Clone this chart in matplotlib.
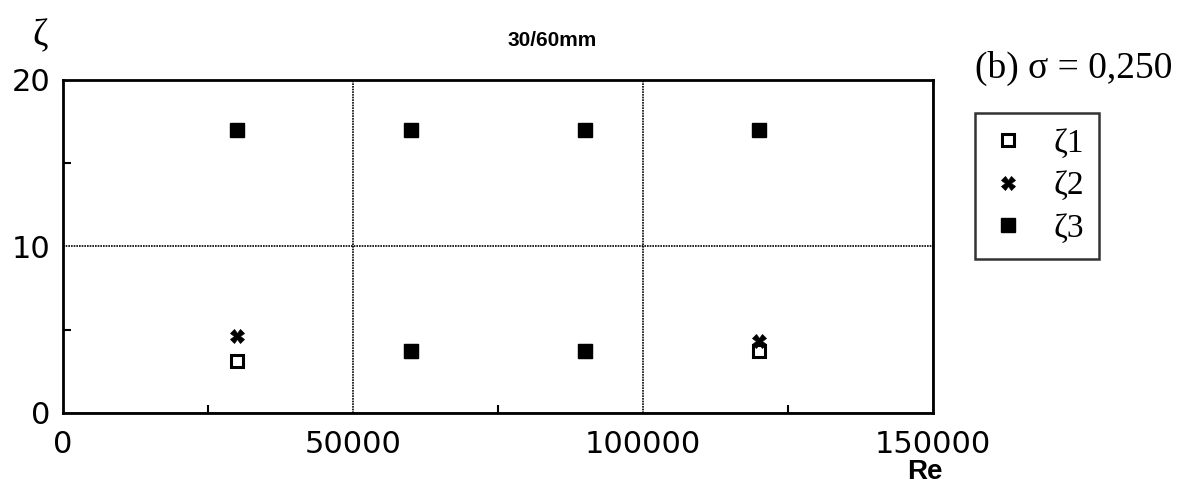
import matplotlib

matplotlib.use("Agg")
import matplotlib.pyplot as plt
from matplotlib.ticker import MultipleLocator

# data
re_vals = [30000, 60000, 90000, 120000]
zeta1 = [3.1, 3.7, 3.7, 3.7]
zeta2 = [4.6, 3.7, 3.7, 4.3]
zeta3 = [17.0, 17.0, 17.0, 17.0]
x_ticks = [0, 50000, 100000, 150000]
y_ticks = [0, 10, 20]

fig = plt.figure(figsize=(11.84, 5.01), dpi=100)
ax = fig.add_axes([63 / 1184, 1 - 413 / 501, 870 / 1184, 333 / 501])

ax.plot(re_vals, zeta1, linestyle="none", marker="s", ms=8.5, mfc="white",
        mec="black", mew=2.2, label="ζ1", zorder=3)
ax.plot(re_vals, zeta2, linestyle="none", marker="X", ms=10, mfc="black",
        mec="black", mew=0.5, label="ζ2", zorder=3)
ax.plot(re_vals, zeta3, linestyle="none", marker="s", ms=10, mfc="black",
        mec="black", label="ζ3", zorder=4)
# overlapped zeta1/zeta2 points look filled in the original
ax.plot(re_vals[1:3], zeta1[1:3], linestyle="none", marker="s", ms=10,
        mfc="black", mec="black", zorder=4)

ax.set_xlim(0, 150000)
ax.set_ylim(0, 20)
ax.set_xticks(x_ticks)
ax.set_yticks(y_ticks)
ax.xaxis.set_minor_locator(MultipleLocator(25000))
ax.yaxis.set_minor_locator(MultipleLocator(5))
ax.tick_params(which="major", length=0, labelsize=22)
ax.tick_params(axis="x", which="major", pad=12)
ax.tick_params(axis="y", which="major", pad=9)
ax.tick_params(which="minor", direction="in", length=6, width=1.5)
ax.grid(True, which="major", linestyle=(0, (1, 0.6)), color="black", linewidth=1.2)
for sp in ax.spines.values():
    sp.set_linewidth(2)

fig.text(40 / 1184, 1 - 36 / 501, "ζ", fontsize=27, family="Liberation Serif",
         ha="center", va="center")
fig.text(552 / 1184, 1 - 40 / 501, "30/60mm", fontsize=15, fontweight="bold",
         family="Liberation Sans", ha="center", va="center")
fig.text(925 / 1184, 1 - 472 / 501, "Re", fontsize=20, fontweight="bold",
         family="Liberation Sans", ha="center", va="center")
fig.text(975 / 1184, 1 - 68 / 501, "(b) σ = 0,250", fontsize=27,
         family="Liberation Serif", ha="left", va="center")

leg = fig.legend(loc="upper left", bbox_to_anchor=(975 / 1184, 1 - 113 / 501),
                 borderaxespad=0, frameon=True, fancybox=False,
                 prop={"family": "Liberation Serif", "size": 24},
                 handletextpad=0.8, borderpad=0.45, labelspacing=0.37, handlelength=1.1)
leg.get_frame().set_edgecolor("black")
leg.get_frame().set_linewidth(1.8)

fig.savefig("out.png", dpi=100)
